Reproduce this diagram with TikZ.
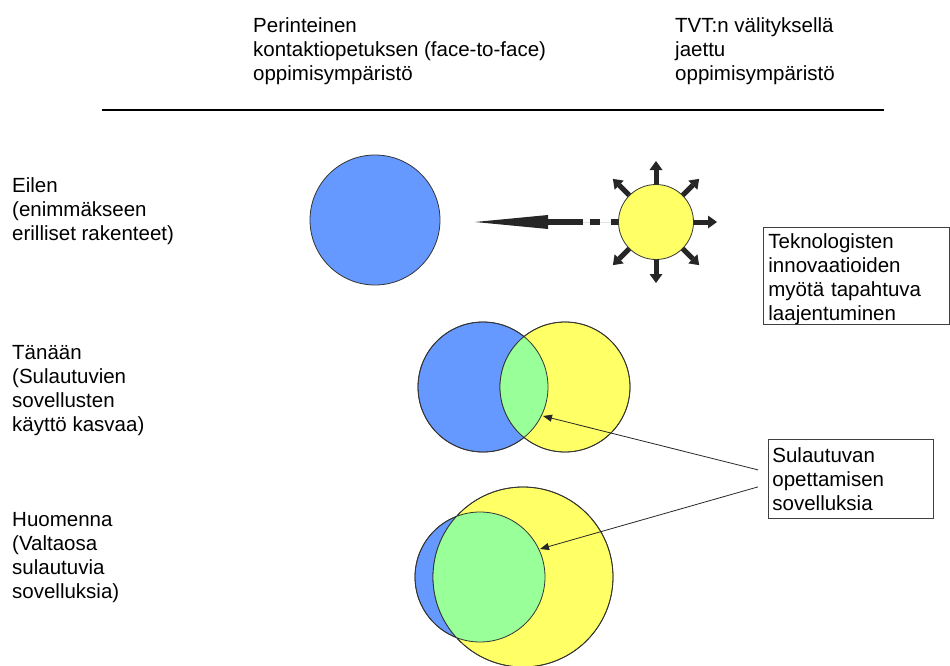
\documentclass[tikz,border=0pt]{standalone}
\usepackage{fontspec}
\setmainfont{Liberation Sans}
\usetikzlibrary{arrows.meta}
\definecolor{f2fblue}{HTML}{6699FF}
\definecolor{tvtyellow}{HTML}{FFFF66}
\definecolor{blendgreen}{HTML}{99FF99}
\begin{document}
\begin{tikzpicture}[
        x=1pt, y=-1pt,
        txt/.style={anchor=north west, inner sep=0pt, align=left, font=\fontsize{20.5}{24}\selectfont},
        note/.style={draw=black!75, line width=0.8pt, anchor=north west, align=left, inner ysep=0pt, font=\fontsize{20.5}{24}\selectfont},
        set/.style={draw=black!80, line width=0.8pt, circle, inner sep=0pt},
        outline/.style={draw=black!80, line width=0.8pt},
        ray/.style={-{Triangle[length=9pt, width=13pt, line width=0pt]}, line width=5pt, draw=black!85, fill=black!85},
        push/.style={-{Triangle[length=73pt, width=14pt, line width=0pt]}, line width=6pt, draw=black!85, fill=black!85,
            dash pattern=on 7pt off 11pt on 10pt off 7pt on 300pt},
        pointer/.style={-{Triangle[length=9pt, width=7pt]}, line width=0.8pt, draw=black!85},
    ]
    \useasboundingbox (0,0) rectangle (950,666);

    % otsikot
    \node[txt] (f2fhead) at (253,17) {Perinteinen\\kontaktiopetuksen (face-to-face)\\oppimisympäristö};
    \node[txt] (tvthead) at (675,17) {TVT:n välityksellä\\jaettu\\oppimisympäristö};
    \draw[line width=2.5pt] (102,110) -- (884,110);

    % rivit
    \node[txt] (yesterday) at (12,177) {Eilen\\(enimmäkseen\\erilliset rakenteet)};
    \node[txt] (today) at (12,345) {Tänään\\(Sulautuvien\\sovellusten\\käyttö kasvaa)};
    \node[txt] (tomorrow) at (12,512) {Huomenna\\(Valtaosa\\sulautuvia\\sovelluksia)};

    % eilen
    \node[set, fill=f2fblue, minimum size=130pt] (f2fpast) at (375,220) {};
    \node[set, fill=tvtyellow, minimum size=75pt] (sun) at (656,222) {};
    \foreach \a in {0,45,90,135,225,270,315}{
        \path (sun.center) ++(\a:61pt) coordinate (tip\a);
        \draw[ray] (sun.\a) -- (tip\a);
    }
    \coordinate (pull) at (475,222);
    \draw[push] (sun.west) -- (pull);

    % tänään
    \node[set, fill=f2fblue, minimum size=130pt] (f2fnow) at (483,387) {};
    \node[set, fill=tvtyellow, minimum size=130pt] (tvtnow) at (565,387) {};
    \begin{scope}
        \clip (f2fnow.center) circle[radius=65];
        \fill[blendgreen] (tvtnow.center) circle[radius=65];
    \end{scope}
    \draw[outline] (f2fnow.center) circle[radius=65] (tvtnow.center) circle[radius=65];

    % huomenna
    \node[set, fill=f2fblue, minimum size=130pt] (f2flater) at (480,577) {};
    \node[set, fill=tvtyellow, minimum size=180pt] (tvtlater) at (523,577) {};
    \begin{scope}
        \clip (f2flater.center) circle[radius=65];
        \fill[blendgreen] (tvtlater.center) circle[radius=90];
    \end{scope}
    \draw[outline] (f2flater.center) circle[radius=65] (tvtlater.center) circle[radius=90];

    % selitteet
    \node[note, text width=176pt, inner xsep=5pt, minimum height=97pt] (growth) at (763,227)
        {\rule{0pt}{21pt}Teknologisten\\innovaatioiden\\myötä tapahtuva\\laajentuminen};
    \node[note, text width=157pt, inner xsep=4pt, minimum height=79pt] (apps) at (768,439)
        {Sulautuvan\\opettamisen\\sovelluksia};

    \coordinate (blendnow) at (543,416);
    \coordinate (blendlater) at (540,549);
    \draw[pointer] ([xshift=-10pt, yshift=9pt]apps.west) -- (blendnow);
    \draw[pointer] ([xshift=-10pt, yshift=-8pt]apps.west) -- (blendlater);
\end{tikzpicture}
\end{document}
